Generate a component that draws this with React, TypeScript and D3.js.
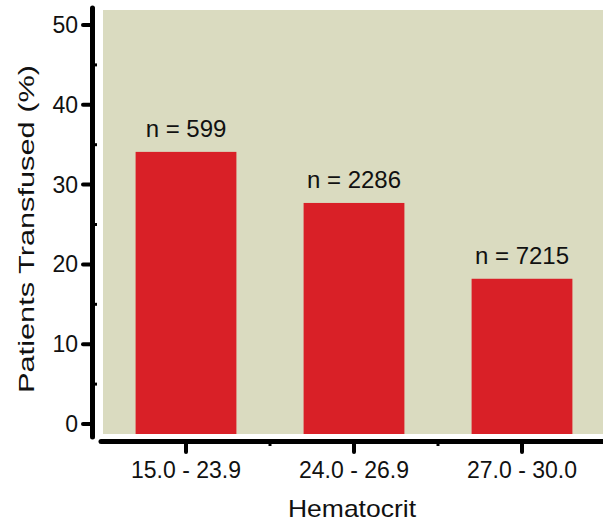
import React from "react";
import * as d3 from "d3";

const categories = ["15.0 - 23.9", "24.0 - 26.9", "27.0 - 30.0"];
const values = [34.1, 27.7, 18.2];
const nLabels = ["n = 599", "n = 2286", "n = 7215"];
const yTicks = [0, 10, 20, 30, 40, 50];
const yMinor = [5, 15, 25, 35, 45];

export default function App() {
  const W = 603, H = 523;
  const font = "'Liberation Sans', Arial, sans-serif";
  const y = d3.scaleLinear().domain([0, 50]).range([424, 25]);
  const x = d3.scaleBand().domain(categories).range([102, 606]).paddingInner(0.4).paddingOuter(0.2);
  const step = x.step();
  const bgTop = 10, bgBottom = 434, bgLeft = 103;
  const axisX = 92.5, axisY = 441.5;
  const boundaries = categories.slice(1).map((c) => (x(c) as number) - (step - x.bandwidth()) / 2);
  return (
    <div style={{ position: "absolute", left: 0, top: 0, width: W, height: H, overflow: "hidden" }}>
      <svg width={W} height={H} style={{ display: "block" }} fontFamily={font}>
        <rect x={bgLeft} y={bgTop} width={W - bgLeft} height={bgBottom - bgTop} fill="#dadbc0" />
        {categories.map((c, i) => (
          <g key={c}>
            <rect x={x(c)} y={y(values[i])} width={x.bandwidth()} height={bgBottom - y(values[i])} fill="#d92027" />
            <text x={(x(c) as number) + x.bandwidth() / 2} y={y(values[i]) - 15} textAnchor="middle" fontSize={24} fill="#111">
              {nLabels[i]}
            </text>
            <line x1={(x(c) as number) + x.bandwidth() / 2} x2={(x(c) as number) + x.bandwidth() / 2} y1={axisY} y2={452} stroke="#000" strokeWidth={4} strokeLinecap="round" />
            <text x={(x(c) as number) + x.bandwidth() / 2} y={478} textAnchor="middle" fontSize={23} fill="#111">
              {c}
            </text>
          </g>
        ))}
        {boundaries.map((b, i) => (
          <line key={i} x1={b} x2={b} y1={axisY} y2={446} stroke="#000" strokeWidth={3} />
        ))}
        <line x1={axisX} x2={axisX} y1={8} y2={437} stroke="#000" strokeWidth={5} strokeLinecap="round" />
        <line x1={101} x2={W} y1={axisY} y2={axisY} stroke="#000" strokeWidth={5} strokeLinecap="round" />
        {yTicks.map((t) => (
          <g key={t}>
            <line x1={83} x2={axisX} y1={y(t)} y2={y(t)} stroke="#000" strokeWidth={4} strokeLinecap="round" />
            <text x={78} y={y(t) + 8} textAnchor="end" fontSize={23} fill="#111">
              {t}
            </text>
          </g>
        ))}
        {yMinor.map((t) => (
          <line key={t} x1={axisX} x2={97} y1={y(t)} y2={y(t)} stroke="#000" strokeWidth={3} />
        ))}
        <text transform={`translate(33.5,229) rotate(-90)`} textAnchor="middle" fontSize={22} fill="#111" textLength={328} lengthAdjust="spacingAndGlyphs">
          Patients Transfused (%)
        </text>
        <text x={352} y={517} textAnchor="middle" fontSize={24} fill="#111" textLength={128} lengthAdjust="spacingAndGlyphs">
          Hematocrit
        </text>
      </svg>
    </div>
  );
}
